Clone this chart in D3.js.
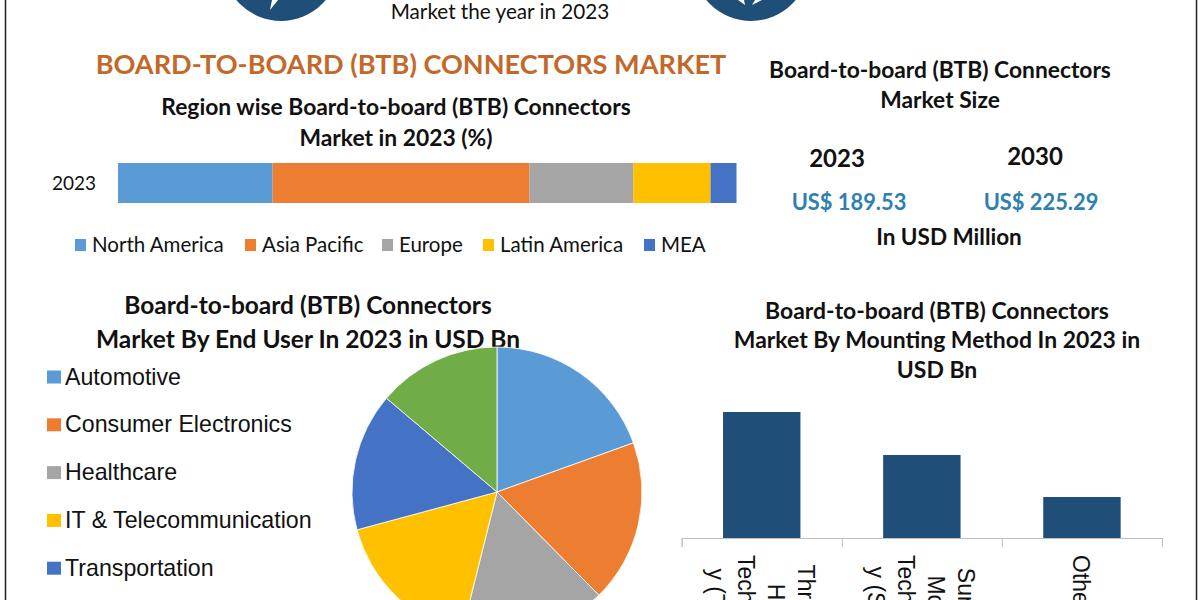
<!DOCTYPE html>
<html>
<head>
<meta charset="utf-8">
<script src="https://cdn.jsdelivr.net/npm/d3@7"></script>
<style>
  html, body { margin: 0; padding: 0; background: #fff; overflow: hidden; }
  text { font-family: Lato, "Open Sans", sans-serif; fill: #111; }
</style>
</head>
<body>
<svg id="chart" width="1200" height="600"></svg>
<script>
var regions = ["North America", "Asia Pacific", "Europe", "Latin America", "MEA"];
var regionShare = [25, 41.5, 16.8, 12.5, 4.2];
var regionColors = ["#5b9bd5", "#ed7d31", "#a5a5a5", "#ffc000", "#4472c4"];

var endUsers = ["Automotive", "Consumer Electronics", "Healthcare", "IT & Telecommunication", "Transportation", "Others"];
var endUserValues = [19.5, 18.1, 16.3, 16.9, 15.4, 13.8];
var endUserColors = ["#5b9bd5", "#ed7d31", "#a5a5a5", "#ffc000", "#4472c4", "#70ad47"];

var mountingLabels = [["Through", "Hole", "Technolog", "y (THT)"], ["Surface", "Mount", "Technolog", "y (SMT)"], ["Others"]];
var mountingValues = [126, 83, 41];

var ARIAL = "'Liberation Sans', Arial, sans-serif";

var svg = d3.select("#chart");

function label(x, y, str, size, weight, anchor, fill) {
  return svg.append("text")
    .attr("x", x).attr("y", y)
    .attr("text-anchor", anchor || "middle")
    .style("font-size", size + "px")
    .style("font-weight", weight || 400)
    .style("fill", fill || "#111")
    .text(str);
}

// outer frame, runs off the top and bottom of the crop
svg.append("rect").attr("x", 5.5).attr("y", -10).attr("width", 1191).attr("height", 630)
  .attr("fill", "none").attr("stroke", "#222").attr("stroke-width", 1.5);

// header badges, only their lower edge is in the crop
[281, 751].forEach(function(cx) {
  svg.append("circle").attr("cx", cx).attr("cy", -37).attr("r", 58).attr("fill", "#1f4e79");
});
svg.append("path").attr("d", "M270,10 L278,0 L272,0 Z").attr("fill", "#fff");
svg.append("path").attr("d", "M738,0 L745,5 L744,0 Z M752,5 L762,0 L755,0 Z").attr("fill", "#fff");
label(500, 19, "Market the year in 2023", 20.7, 400);

label(411, 73.5, "BOARD-TO-BOARD (BTB) CONNECTORS MARKET", 27.1, 700, "middle", "#c4682a");
label(396, 115, "Region wise Board-to-board (BTB) Connectors", 22.85, 700);
label(396, 146, "Market in 2023 (%)", 22.85, 700);

// stacked bar
var barX = d3.scaleLinear().domain([0, d3.sum(regionShare)]).range([118, 736.5]);
var cum = d3.cumsum(regionShare);
svg.selectAll("rect.region").data(regionShare).enter().append("rect")
  .attr("class", "region")
  .attr("x", function(d, i) { return barX(cum[i] - d); })
  .attr("y", 163).attr("height", 40)
  .attr("width", function(d) { return barX(d) - barX(0); })
  .attr("fill", function(d, i) { return regionColors[i]; });
label(74, 190, "2023", 19, 400);

var legendX = [75, 245, 382, 483, 644];
regions.forEach(function(r, i) {
  svg.append("rect").attr("x", legendX[i]).attr("y", 239).attr("width", 11).attr("height", 12)
    .attr("fill", regionColors[i]);
  label(legendX[i] + 17, 252, r, 20.5, 400, "start");
});

// market size block
label(940, 78, "Board-to-board (BTB) Connectors", 22.8, 700);
label(940, 108, "Market Size", 22.8, 700);
label(837, 167, "2023", 24, 700);
label(1035, 165, "2030", 24, 700);
label(849, 210, "US$ 189.53", 21.85, 700, "middle", "#2e80b0");
label(1041, 210, "US$ 225.29", 21.85, 700, "middle", "#2e80b0");
label(949, 245, "In USD Million", 22.5, 700);

// end user pie
label(308, 314, "Board-to-board (BTB) Connectors", 24.5, 700);
label(308, 348, "Market By End User In 2023 in USD Bn", 24.5, 700);

var pie = d3.pie().sort(null)(endUserValues);
var arc = d3.arc().innerRadius(0).outerRadius(145);
svg.append("g").attr("transform", "translate(497,492)")
  .selectAll("path").data(pie).enter().append("path")
  .attr("d", arc)
  .attr("fill", function(d, i) { return endUserColors[i]; })
  .attr("stroke", "#fff").attr("stroke-width", 0.8);

endUsers.forEach(function(u, i) {
  var y = 376.5 + i * 47.8;
  svg.append("rect").attr("x", 47).attr("y", y - 6).attr("width", 14).attr("height", 13)
    .attr("fill", endUserColors[i]);
  label(65, y + 8, u, 23.2, 400, "start").style("font-family", ARIAL);
});

// mounting bars
label(937, 319, "Board-to-board (BTB) Connectors", 22.95, 700);
label(937, 348, "Market By Mounting Method In 2023 in", 22.95, 700);
label(937, 378, "USD Bn", 22.95, 700);

var x = d3.scaleBand().domain(d3.range(mountingValues.length)).range([681.7, 1162]);
var y = d3.scaleLinear().domain([0, 126]).range([538, 412]);
svg.selectAll("rect.mount").data(mountingValues).enter().append("rect")
  .attr("class", "mount")
  .attr("x", function(d, i) { return x(i) + x.bandwidth() / 2 - 38.7; })
  .attr("width", 77.4)
  .attr("y", function(d) { return y(d); })
  .attr("height", function(d) { return y(0) - y(d); })
  .attr("fill", "#1f4e79");

// ticks sit between the bars, so the axis runs on band edges
var edges = d3.scaleLinear().domain([0, mountingValues.length]).range([681.7, 1162]);
var axisG = svg.append("g").attr("transform", "translate(0,538)")
  .call(d3.axisBottom(edges).ticks(mountingValues.length).tickSize(9).tickSizeOuter(9).tickFormat(""));
axisG.selectAll("path, line").attr("stroke", "#bfbfbf");

// wrapped labels turned 90deg: top aligned as a block, lines centred in it
mountingLabels.forEach(function(lines, i) {
  var cx = x(i) + x.bandwidth() / 2;
  var nodes = lines.map(function(line, j) {
    return svg.append("text")
      .attr("text-anchor", "middle")
      .style("font-family", ARIAL)
      .style("font-size", "23px")
      .text(line);
  });
  var longest = d3.max(nodes, function(n) { return n.node().getComputedTextLength(); });
  nodes.forEach(function(n, j) {
    var tx = cx - 9 + ((lines.length - 1) / 2 - j) * 30;
    n.attr("transform", "translate(" + tx + "," + (555 + longest / 2) + ") rotate(90)");
  });
});
</script>
</body>
</html>
